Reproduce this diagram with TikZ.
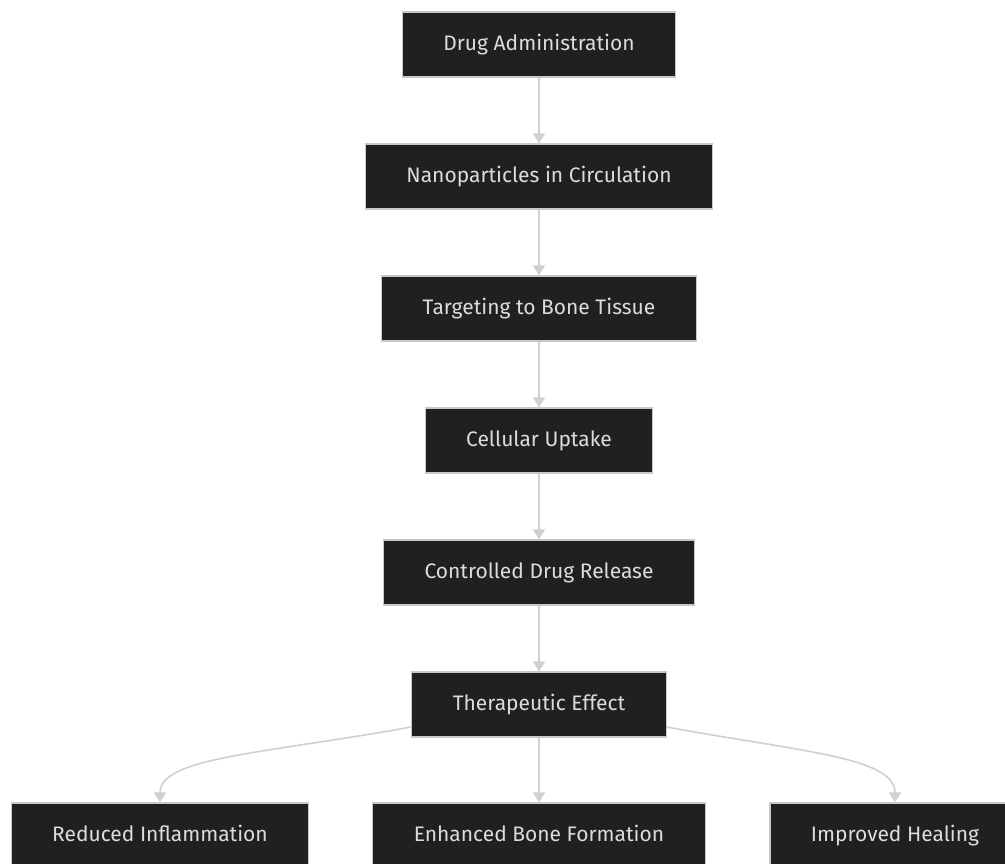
\documentclass[tikz,border=0pt]{standalone}
\usepackage{fontspec}
\setmainfont{Fira Sans}
\usepackage{tikz}
\usetikzlibrary{arrows.meta}

\definecolor{boxfill}{HTML}{202020}
\definecolor{boxline}{HTML}{C8C8C8}
\definecolor{boxtext}{HTML}{DCDCDC}
\definecolor{flowline}{HTML}{D0D0D0}

\tikzset{
  stage/.style={draw=boxline, line width=0.6pt, fill=boxfill, text=boxtext,
    minimum height=32.5pt, inner xsep=20.5pt, text height=7pt, text depth=1.5pt,
    font=\fontsize{10.5}{12}\selectfont},
  flow/.style={draw=flowline, line width=0.8pt,
    -{Triangle[width=6pt,length=5pt]}}
}

\begin{document}
\begin{tikzpicture}[x=0.5pt, y=-0.5pt]
\useasboundingbox (0,0) rectangle (1005,863);

\foreach \name/\txt [count=\i] in {admin/Drug Administration,
    circ/Nanoparticles in Circulation, target/Targeting to Bone Tissue,
    uptake/Cellular Uptake, release/Controlled Drug Release,
    effect/Therapeutic Effect}
  {
    \node[stage] (\name) at (539, 44.5+132*\i-132) {\txt};
  }

\node[stage] (inflam) at (160,835.5) {Reduced Inflammation};
\node[stage] (bone) at (539,835.5) {Enhanced Bone Formation};
\node[stage] (heal) at (895,835.5) {Improved Healing};

\foreach \a/\b in {admin/circ, circ/target, target/uptake, uptake/release,
    release/effect, effect/bone}
  {
    \draw[flow] (\a) -- (\b);
  }
\draw[flow] (effect.190) .. controls +(-150,27) and +(0,-45) .. (inflam.north);
\draw[flow] (effect.-10) .. controls +(137,25) and +(0,-45) .. (heal.north);
\end{tikzpicture}
\end{document}
